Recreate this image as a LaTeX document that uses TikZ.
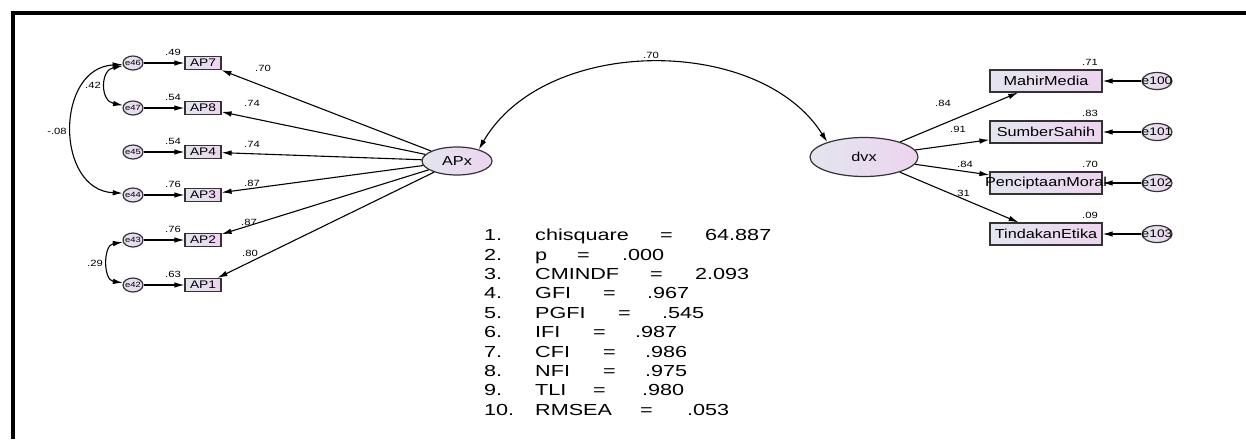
\documentclass[tikz,border=0pt]{standalone}
\usepackage{fontspec}
\setmainfont{Liberation Sans}
\newfontfamily\wf[FakeStretch=1.25]{Liberation Sans}
\newfontfamily\statfont[FakeStretch=1.35]{Liberation Sans}
\usetikzlibrary{arrows.meta,shapes.geometric}
\definecolor{fillL}{HTML}{E3E5EF}
\definecolor{fillR}{HTML}{EDD4EF}
\definecolor{edge}{HTML}{333333}
\begin{document}
\begin{tikzpicture}[x=1pt,y=-1pt,
  shaded/.style={draw=edge, line width=1.2pt, left color=fillL, right color=fillR, inner sep=0pt},
  obsS/.style={shaded, rectangle, minimum width=36pt, minimum height=13pt, font=\wf\fontsize{11}{11}\selectfont},
  obsL/.style={shaded, rectangle, minimum width=112pt, minimum height=22pt, font=\wf\fontsize{13}{13}\selectfont},
  errS/.style={shaded, ellipse, minimum width=20pt, minimum height=14pt, font=\wf\fontsize{7.5}{7.5}\selectfont},
  errL/.style={shaded, ellipse, minimum width=30pt, minimum height=17pt, font=\wf\fontsize{11}{11}\selectfont},
  lat/.style={shaded, ellipse, font=\wf\fontsize{13}{13}\selectfont},
  lab/.style={inner sep=0pt, font=\wf\fontsize{9}{9}\selectfont},
  stat/.style={inner sep=0pt, anchor=mid west, font=\statfont\fontsize{16}{16}\selectfont},
  arr/.style={line width=1.1pt, -{Latex[length=10pt,width=5.5pt]}},
  arr2/.style={line width=1.1pt, {Latex[length=10pt,width=5.5pt]}-{Latex[length=10pt,width=5.5pt]}}
]
\useasboundingbox (0,0) rectangle (1246,439);
\draw[line width=4pt] (13,439) -- (13,13) -- (1246,13);

% latent variables
\node[lat, minimum width=70pt, minimum height=28pt] (APx) at (457,161) {APx};
\node[lat, minimum width=108pt, minimum height=39pt] (dvx) at (864,157) {dvx};
\draw[arr2] (APx.28) .. controls (545,35) and (760,35) .. (dvx.158);
\node[lab] (cov) at (651,55) {.70};

% left indicators
\foreach \n/\e/\y/\r/\l/\lx/\ly in {AP7/e46/63/.49/.70/263/68, AP8/e47/108/.54/.74/252/103, AP4/e45/152/.54/.74/252/144, AP3/e44/195/.76/.87/252/183, AP2/e43/240/.76/.87/249/222, AP1/e42/285/.63/.80/250/253}{
  \node[obsS] (\n) at (203,\y) {\n};
  \node[errS] (\e) at (133,\y) {\makebox[0pt][c]{\e}};
  \draw[arr] (\e) -- (\n);
  \node[lab] (r\n) at (173,{\y-11}) {\r};
  \draw[arr] (APx) -- (\n);
  \node[lab] (l\n) at (\lx,\ly) {\l};
}

% left covariances
\draw[arr2] (e46.195) .. controls (100,70) and (100,101) .. (e47.165);
\node[lab] (c1) at (93,85) {.42};
\draw[arr2] (e46.188) .. controls (55,68) and (55,190) .. (e44.170);
\node[lab] (c2) at (57,131) {-.08};
\draw[arr2] (e43.192) .. controls (103,245) and (103,280) .. (e42.168);
\node[lab] (c3) at (95,263) {.29};

% right indicators
\foreach \n/\t/\e/\y/\r/\lx/\ly/\l in {MM/MahirMedia/e100/81/.71/943/103/.84, SS/SumberSahih/e101/132/.83/958/129/.91, PM/PenciptaanMoral/e102/183/.70/965/164/.84, TE/TindakanEtika/e103/234/.09/962/193/.31}{
  \node[obsL] (\n) at (1046,\y) {\makebox[0pt][c]{\t}};
  \node[errL] (\e) at (1157,\y) {\makebox[0pt][c]{\e}};
  \draw[arr] (\e) -- (\n);
  \node[lab] (r\n) at (1090,{\y-19}) {\r};
  \draw[arr] (dvx) -- (\n);
  \node[lab] (l\n) at (\lx,\ly) {\l};
}

% fit statistics
\foreach \i/\y/\nm/\ex/\v/\vx in {1/238/chisquare/660/64.887/705, 2/257.4/p/577/.000/622, 3/276.8/CMINDF/650/2.093/695, 4/296.2/GFI/603/.967/647, 5/315.6/PGFI/618/.545/662, 6/335/IFI/593/.987/635, 7/354.4/CFI/603/.986/645, 8/373.8/NFI/603/.975/645, 9/393.2/TLI/593/.980/642, 10/412.6/RMSEA/640/.053/687}{
  \node[stat] (num\i) at (484,\y) {\i.};
  \node[stat] (nm\i) at (535,\y) {\nm};
  \node[stat] (eq\i) at (\ex,\y) {=};
  \node[stat] (val\i) at (\vx,\y) {\v};
}
\end{tikzpicture}
\end{document}
